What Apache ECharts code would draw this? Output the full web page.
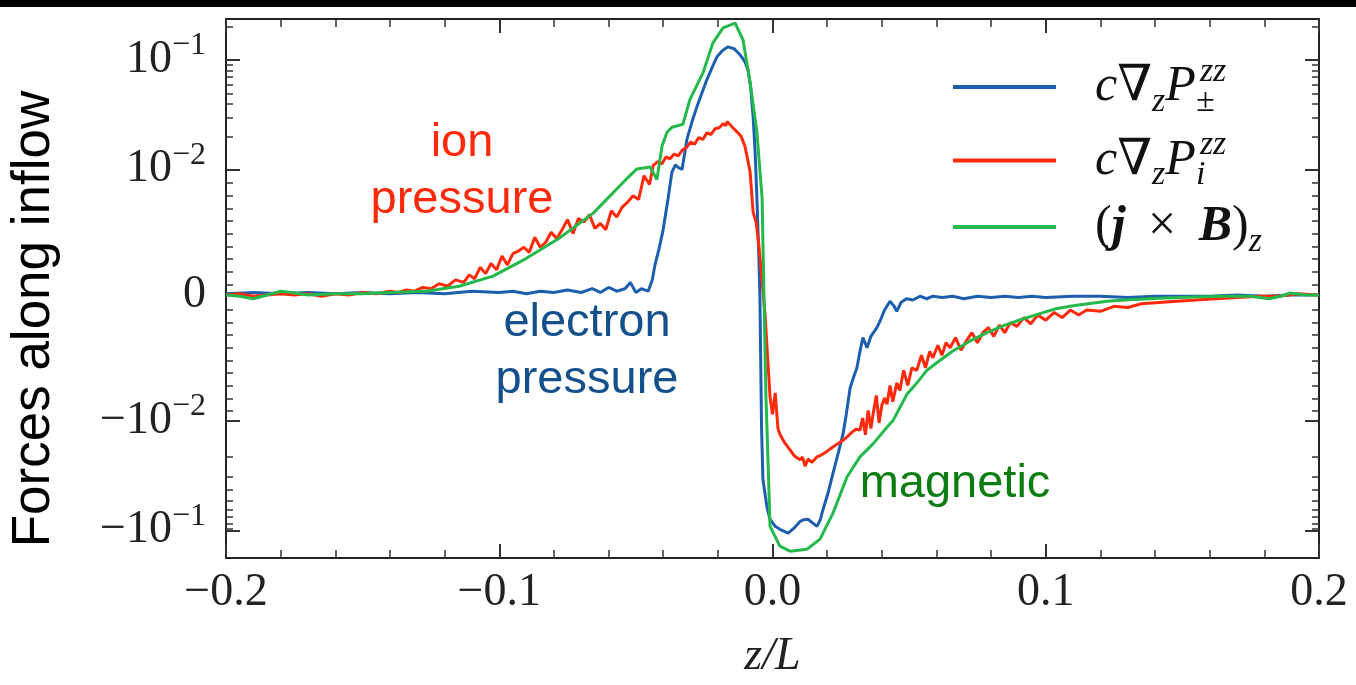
<!DOCTYPE html>
<html><head><meta charset="utf-8">
<script src="https://cdn.jsdelivr.net/npm/echarts@6/dist/echarts.min.js"></script>
<style>html,body{margin:0;padding:0;background:#fff}#c{width:1356px;height:685px}</style>
</head><body><div id="c"></div>
<script>
// ---------------- DATA ----------------
// electron pressure force  c ∇z P±^zz   [z/L, value]
const electronPressure = [
[-0.200,0.0001],[-0.190,0.0002],[-0.180,0.0001],[-0.170,0.0002],[-0.160,0.0001],[-0.150,0.0002],
[-0.140,0.0001],[-0.130,0.0002],[-0.120,0.0001],[-0.110,0.0003],[-0.100,0.0002],[-0.095,0.0003],
[-0.090,0.0001],[-0.085,0.0003],[-0.080,0.0002],[-0.075,0.0004],[-0.070,0.0002],[-0.066,0.0005],
[-0.063,0.0002],[-0.060,0.0006],[-0.057,0.0003],[-0.054,0.0005],[-0.052,0.0010],[-0.050,0.0002],
[-0.048,0.0005],[-0.0455,0.0003],[-0.0440,0.0012],[-0.0430,0.0024],[-0.0415,0.0037],[-0.0401,0.0051],
[-0.0382,0.0077],[-0.0368,0.0098],[-0.0355,0.0110],[-0.0345,0.0104],[-0.0331,0.0100],[-0.0313,0.0189],
[-0.0295,0.0270],[-0.0276,0.0376],[-0.0258,0.0500],[-0.0240,0.0659],[-0.0220,0.0860],[-0.0203,0.1064],
[-0.0183,0.1210],[-0.0163,0.1310],[-0.0140,0.1260],[-0.0119,0.1110],[-0.0100,0.0950],[-0.0090,0.0812],
[-0.0080,0.0560],[-0.0071,0.0305],[-0.0064,0.0150],[-0.0057,0.0077],[-0.0050,0.0030],[-0.0046,-0.0002],
[-0.0040,-0.0120],[-0.0035,-0.0345],[-0.0020,-0.0620],[-0.0009,-0.0794],[0.0010,-0.0920],[0.0027,-0.0980],
[0.0057,-0.1064],[0.0080,-0.0950],[0.0101,-0.0830],[0.0115,-0.0800],[0.0130,-0.0794],[0.0150,-0.0870],
[0.0163,-0.0920],[0.0175,-0.0800],[0.0185,-0.0646],[0.0203,-0.0460],[0.0221,-0.0305],[0.0240,-0.0200],
[0.0258,-0.0133],[0.0270,-0.0095],[0.0284,-0.0074],[0.0296,-0.0066],[0.0309,-0.0058],[0.0320,-0.0045],
[0.0331,-0.0034],[0.0346,-0.0042],[0.0360,-0.0033],[0.0382,-0.0026],[0.0395,-0.0020],[0.0410,-0.0012],
[0.0430,-0.0005],[0.0445,-0.0009],[0.0455,-0.0013],[0.0470,-0.0006],[0.0490,-0.0003],[0.0514,-0.0004],
[0.0540,-0.0001],[0.0565,-0.0003],[0.0587,-0.0001],[0.062,-0.0002],[0.066,-0.0001],[0.070,-0.0003],
[0.075,-0.0001],[0.080,-0.0002],[0.085,-0.0001],[0.090,-0.0002],[0.095,-0.0001],[0.100,-0.0002],
[0.110,-0.0001],[0.120,-0.0001],[0.130,-0.0002],[0.140,-0.0001],[0.150,-0.0001],[0.160,-0.0001],
[0.170,0.0000],[0.180,-0.0001],[0.190,0.0000],[0.200,0.0000]
];
// ion pressure force  c ∇z Pi^zz
const ionPressure = [
[-0.200,0.0000],[-0.195,0.0001],[-0.190,-0.0001],[-0.185,0.0000],[-0.180,0.0001],[-0.175,0.0000],
[-0.170,0.0001],[-0.165,-0.0001],[-0.160,0.0001],[-0.155,0.0000],[-0.150,0.0002],[-0.145,0.0001],
[-0.140,0.0003],[-0.137,0.0002],[-0.134,0.0004],[-0.131,0.0003],[-0.128,0.0006],[-0.125,0.0005],
[-0.122,0.0009],[-0.119,0.0007],[-0.116,0.0012],[-0.113,0.0010],[-0.111,0.0016],[-0.109,0.0013],
[-0.107,0.0022],[-0.105,0.0017],[-0.103,0.0025],[-0.101,0.0020],[-0.099,0.0031],[-0.097,0.0024],
[-0.095,0.0033],[-0.093,0.0035],[-0.091,0.0038],[-0.089,0.0034],[-0.087,0.0046],[-0.085,0.0038],
[-0.083,0.0042],[-0.081,0.0050],[-0.079,0.0045],[-0.077,0.0052],[-0.075,0.0060],[-0.073,0.0049],
[-0.071,0.0061],[-0.069,0.0058],[-0.067,0.0064],[-0.065,0.0053],[-0.063,0.0057],[-0.061,0.0052],
[-0.059,0.0067],[-0.057,0.0062],[-0.055,0.0070],[-0.053,0.0074],[-0.051,0.0079],[-0.049,0.0076],
[-0.047,0.0095],[-0.045,0.0088],[-0.0437,0.0108],[-0.0420,0.0118],[-0.0405,0.0112],[-0.0390,0.0130],
[-0.0375,0.0125],[-0.0360,0.0138],[-0.0345,0.0133],[-0.0330,0.0150],[-0.0315,0.0158],[-0.0300,0.0177],
[-0.0285,0.0170],[-0.0270,0.0195],[-0.0255,0.0188],[-0.0240,0.0215],[-0.0225,0.0208],[-0.0210,0.0235],
[-0.0195,0.0240],[-0.0180,0.0262],[-0.0172,0.0250],[-0.0165,0.0272],[-0.0155,0.0255],[-0.0145,0.0240],
[-0.0130,0.0220],[-0.0115,0.0200],[-0.0101,0.0163],[-0.0090,0.0120],[-0.0082,0.0098],[-0.0071,0.0066],
[-0.0060,0.0058],[-0.0050,0.0040],[-0.0038,0.0011],[-0.0027,-0.0016],[-0.0020,-0.0042],[-0.0009,-0.0081],
[0.0000,-0.0095],[0.0010,-0.0078],[0.0020,-0.0118],[0.0027,-0.0133],[0.0045,-0.0160],[0.0064,-0.0185],
[0.0080,-0.0210],[0.0101,-0.0228],[0.0110,-0.0215],[0.0119,-0.0260],[0.0130,-0.0225],[0.0145,-0.0240],
[0.0163,-0.0214],[0.0180,-0.0205],[0.0200,-0.0190],[0.0221,-0.0174],[0.0240,-0.0162],[0.0260,-0.0150],
[0.0273,-0.0141],[0.0290,-0.0128],[0.0305,-0.0120],[0.0320,-0.0122],[0.0330,-0.0098],[0.0340,-0.0135],
[0.0350,-0.0092],[0.0360,-0.0118],[0.0368,-0.0095],[0.0380,-0.0080],[0.0390,-0.0105],[0.0400,-0.0088],
[0.0410,-0.0082],[0.0419,-0.0087],[0.0430,-0.0072],[0.0440,-0.0085],[0.0455,-0.0070],[0.0466,-0.0076],
[0.0480,-0.0060],[0.0495,-0.0072],[0.0510,-0.0058],[0.0528,-0.0060],[0.0545,-0.0048],[0.0560,-0.0058],
[0.0575,-0.0045],[0.0587,-0.0050],[0.0605,-0.0040],[0.0620,-0.0048],[0.0635,-0.0038],[0.0650,-0.0042],
[0.0670,-0.0034],[0.0690,-0.0044],[0.0711,-0.0036],[0.0730,-0.0030],[0.0750,-0.0038],[0.0770,-0.0030],
[0.0790,-0.0026],[0.0810,-0.0033],[0.0830,-0.0024],[0.0850,-0.0030],[0.0870,-0.0022],[0.0895,-0.0025],
[0.0920,-0.0018],[0.0945,-0.0023],[0.0970,-0.0016],[0.1000,-0.0020],[0.1030,-0.0014],[0.1060,-0.0018],
[0.1090,-0.0012],[0.1120,-0.0016],[0.1150,-0.0012],[0.1200,-0.0013],[0.1250,-0.0009],[0.1300,-0.0010],
[0.1350,-0.0007],[0.1414,-0.0006],[0.1480,-0.0005],[0.1550,-0.0004],[0.1620,-0.0003],[0.1700,-0.0002],
[0.1780,-0.0001],[0.1850,-0.0001],[0.1920,0.0001],[0.2000,0.0000]
];
// magnetic force (j x B)_z
const magneticForce = [
[-0.200,0.0000],[-0.195,-0.0001],[-0.190,-0.0003],[-0.185,0.0000],[-0.180,0.0003],[-0.176,0.0002],
[-0.170,0.0000],[-0.160,0.0001],[-0.150,0.0001],[-0.140,0.0002],[-0.1268,0.0003],[-0.1147,0.0007],
[-0.1023,0.0015],[-0.0902,0.0029],[-0.0782,0.0045],[-0.0657,0.0065],[-0.0536,0.0092],[-0.0496,0.0101],
[-0.0448,0.0105],[-0.0423,0.0092],[-0.0404,0.0164],[-0.0386,0.0218],[-0.0368,0.0242],[-0.0328,0.0258],
[-0.0302,0.0435],[-0.0254,0.0762],[-0.0218,0.1426],[-0.0181,0.1950],[-0.0137,0.2160],[-0.0108,0.1520],
[-0.0082,0.0620],[-0.0057,0.0218],[-0.0038,0.0077],[-0.0031,-0.0002],[-0.0024,-0.0081],[-0.0016,-0.0248],
[-0.0009,-0.0920],[0.0027,-0.1396],[0.0064,-0.1550],[0.0126,-0.1490],[0.0174,-0.1205],[0.0221,-0.0702],
[0.0273,-0.0325],[0.0320,-0.0214],[0.0368,-0.0163],[0.0419,-0.0115],[0.0441,-0.0100],[0.0492,-0.0079],
[0.0532,-0.0069],[0.0565,-0.0060],[0.0595,-0.0055],[0.0657,-0.0045],[0.0720,-0.0037],[0.0785,-0.0030],
[0.0850,-0.0024],[0.0910,-0.00195],[0.0975,-0.0015],[0.1037,-0.0011],[0.1100,-0.00085],[0.1162,-0.00067],
[0.1225,-0.0005],[0.1290,-0.0004],[0.1414,-0.00026],[0.1540,-0.00016],[0.1650,-0.0001],[0.1750,-0.0001],
[0.1817,-0.0003],[0.1860,-0.0001],[0.1894,0.00016],[0.1950,0.0000],[0.2000,0.0000]
];
const seriesNames = ['ePress','iPress','jxB'];
const seriesColors = ['#1d5fae','#ff2a0c','#25b84c'];

// axis ticks / labels
const xRange = [-0.2, 0.2];
const xStep = 0.1;
const yRange = [-0.179, 0.235];
const yTickValues = [-0.1, -0.01, 0, 0.01, 0.1];
const yTickBases  = ['\u221210', '\u221210', '0', '10', '10'];
const yTickExps   = ['\u22121', '\u22122', '', '\u22122', '\u22121'];
const minorMantissas = [1,2,3,4,5,6,7,8,9];
const minorExponents = [-3,-2,-1];

// annotations
const notes = [
  {text:'ion\npressure', color:'#ff2a0c', x:462, y:172},
  {text:'electron\npressure', color:'#14508c', x:587, y:352},
  {text:'magnetic', color:'#0c7d12', x:955, y:484}
];

// ---------------- SYMLOG ----------------
const LIN_THRESH = 0.01, LIN_SCALE = 1.145;
function T(v){const a=Math.abs(v); if(a<=LIN_THRESH) return v/LIN_THRESH*LIN_SCALE; return Math.sign(v)*(LIN_SCALE+Math.log10(a/LIN_THRESH));}
function Tinv(t){const a=Math.abs(t); if(a<=LIN_SCALE) return t/LIN_SCALE*LIN_THRESH; return Math.sign(t)*LIN_THRESH*Math.pow(10,a-LIN_SCALE);}

const majorT = yTickValues.map(T);
const minorT = [];
minorExponents.forEach(e=>minorMantissas.forEach(m=>{
  if (m===1 && e!==-3) return;
  const v = m*Math.pow(10,e);
  if (v<=yRange[1]) minorT.push(T(v));
  if (-v>=yRange[0]) minorT.push(T(-v));
}));

const SERIF = '"Liberation Serif","DejaVu Serif",serif';
const SANS = '"Liberation Sans",Arial,Helvetica,sans-serif';
const frame = {show:true, onZero:false, lineStyle:{color:'#222', width:2}};
const noLine = {show:false, onZero:false};
const tickStyle = {color:'#333', width:2};

function yLabel(val){
  const v = Tinv(val); let best=0, bd=1e9;
  yTickValues.forEach((tv,i)=>{const d=Math.abs(tv-v); if(d<bd){bd=d;best=i;}});
  return yTickExps[best] ? `{b|${yTickBases[best]}}{s|${yTickExps[best]}}` : `{b|${yTickBases[best]}}`;
}
function xLabel(v){
  const s = Math.abs(v).toFixed(1);
  return (v < -1e-9 ? '\u2212' : '') + s;
}

const legendRich = {
  ePress: '{it|c}{rm|\u2207}{sub|z}{it|P}{subn|\u00b1}{sup|zz}',
  iPress: '{it|c}{rm|\u2207}{sub|z}{it|P}{subn|i}{sup|zz}',
  jxB: '{rm|(}{bi|j}{rm|\u2009\u00a0\u00d7\u00a0\u2009}{bi|B}{rm|)}{sub|z}'
};

const chart = echarts.init(document.getElementById('c'), null, {renderer:'canvas'});
const gridBox = {left:226, right:37, top:19, bottom:123};
const yMin = T(yRange[0]), yMax = T(yRange[1]);

chart.setOption({
  animation:false,
  backgroundColor:'#fff',
  grid:[Object.assign({}, gridBox), Object.assign({}, gridBox)],
  xAxis:[
    {gridIndex:0, type:'value', position:'bottom', min:xRange[0], max:xRange[1], interval:xStep,
     axisLine:frame, splitLine:{show:false},
     axisTick:{show:true, inside:true, length:14, lineStyle:tickStyle},
     minorTick:{show:true, splitNumber:5, length:8, lineStyle:{color:'#333', width:1.5}},
     axisLabel:{show:true, margin:12, formatter:xLabel, fontFamily:SERIF, fontSize:46, color:'#222'},
     name:'z/L', nameLocation:'middle', nameGap:76,
     nameTextStyle:{fontFamily:SERIF, fontStyle:'italic', fontSize:46, color:'#222'}},
    {gridIndex:0, type:'value', position:'top', min:xRange[0], max:xRange[1], interval:xStep,
     axisLine:frame, splitLine:{show:false},
     axisTick:{show:true, inside:true, length:14, lineStyle:tickStyle},
     minorTick:{show:true, splitNumber:5, length:8, lineStyle:{color:'#333', width:1.5}},
     axisLabel:{show:false}},
    {gridIndex:1, type:'value', show:false, min:xRange[0], max:xRange[1], axisLine:noLine}
  ],
  yAxis:[
    {gridIndex:0, type:'value', position:'left', min:yMin, max:yMax,
     axisLine:frame, splitLine:{show:false},
     axisTick:{show:true, inside:true, length:14, lineStyle:tickStyle, customValues:majorT},
     axisLabel:{show:true, margin:20, customValues:majorT, formatter:yLabel, color:'#222',
       rich:{
         b:{fontFamily:SERIF, fontSize:46, lineHeight:60, color:'#222'},
         s:{fontFamily:SERIF, fontSize:32, lineHeight:40, verticalAlign:'top', color:'#222'}
       }}},
    {gridIndex:0, type:'value', position:'right', min:yMin, max:yMax,
     axisLine:frame, splitLine:{show:false},
     axisTick:{show:true, inside:true, length:14, lineStyle:tickStyle, customValues:majorT},
     axisLabel:{show:false}},
    {gridIndex:1, type:'value', position:'left', min:yMin, max:yMax,
     axisLine:noLine, splitLine:{show:false},
     axisTick:{show:true, inside:true, length:7, lineStyle:{color:'#333', width:1.5}, customValues:minorT},
     axisLabel:{show:false}},
    {gridIndex:1, type:'value', position:'right', min:yMin, max:yMax,
     axisLine:noLine, splitLine:{show:false},
     axisTick:{show:true, inside:true, length:7, lineStyle:{color:'#333', width:1.5}, customValues:minorT},
     axisLabel:{show:false}}
  ],
  legend:{
    show:true, orient:'vertical', left:948, top:50, itemWidth:103, itemHeight:4, itemGap:9.5,
    icon:'rect', data:seriesNames,
    formatter:(name)=>legendRich[name],
    textStyle:{color:'#111', padding:[0,0,0,34],
      rich:{
        it:{fontFamily:SERIF, fontStyle:'italic', fontSize:50, lineHeight:64, color:'#111'},
        rm:{fontFamily:SERIF, fontSize:50, lineHeight:64, color:'#111'},
        bi:{fontFamily:SERIF, fontStyle:'italic', fontWeight:'bold', fontSize:50, lineHeight:64, color:'#111'},
        sub:{fontFamily:SERIF, fontStyle:'italic', fontSize:34, lineHeight:42, verticalAlign:'bottom', color:'#111'},
        subn:{fontFamily:SERIF, fontStyle:'italic', fontSize:34, lineHeight:42, verticalAlign:'bottom', width:4, color:'#111'},
        sup:{fontFamily:SERIF, fontStyle:'italic', fontSize:34, lineHeight:42, verticalAlign:'top', color:'#111'}
      }}
  },
  graphic:[
    {type:'rect', left:0, top:0, shape:{x:0,y:0,width:1356,height:7}, style:{fill:'#000'}, z:100},
    {type:'text', x:34, y:319, rotation:Math.PI/2,
     style:{text:'Forces along inflow', font:'53px '+SANS, fill:'#000', align:'center', verticalAlign:'middle', textAlign:'center', textVerticalAlign:'middle'}}
  ].concat(notes.map(n=>({type:'text', x:n.x, y:n.y,
     style:{text:n.text, font:'47px '+SANS, lineHeight:57, fill:n.color, align:'center', verticalAlign:'middle', textAlign:'center', textVerticalAlign:'middle'}}))),
  series:[
    {name:seriesNames[0], type:'line', xAxisIndex:0, yAxisIndex:0, showSymbol:false, symbol:'none',
     data:electronPressure.map(p=>[p[0],T(p[1])]), lineStyle:{color:seriesColors[0], width:3}, itemStyle:{color:seriesColors[0]}, z:2},
    {name:seriesNames[1], type:'line', xAxisIndex:0, yAxisIndex:0, showSymbol:false, symbol:'none',
     data:ionPressure.map(p=>[p[0],T(p[1])]), lineStyle:{color:seriesColors[1], width:3}, itemStyle:{color:seriesColors[1]}, z:3},
    {name:seriesNames[2], type:'line', xAxisIndex:0, yAxisIndex:0, showSymbol:false, symbol:'none',
     data:magneticForce.map(p=>[p[0],T(p[1])]), lineStyle:{color:seriesColors[2], width:3}, itemStyle:{color:seriesColors[2]}, z:4}
  ]
});
</script></body></html>
